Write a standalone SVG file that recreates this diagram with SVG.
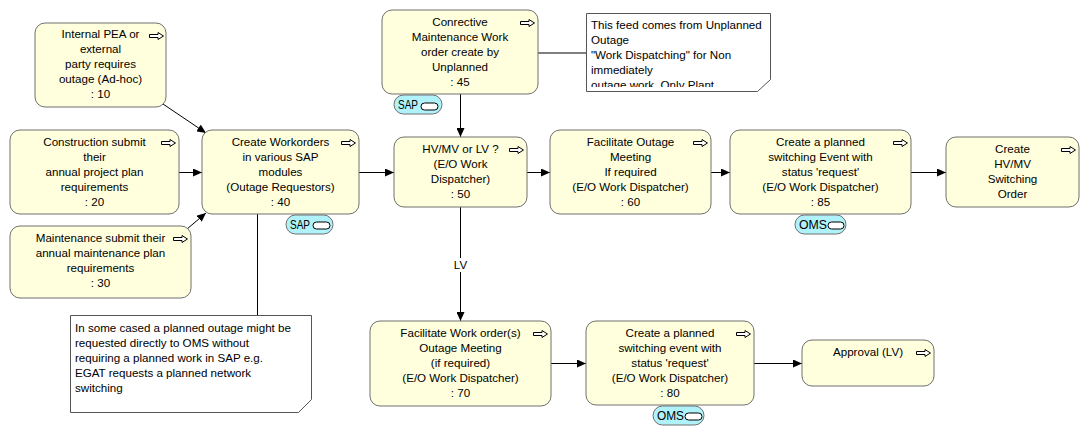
<svg xmlns="http://www.w3.org/2000/svg" xmlns:xlink="http://www.w3.org/1999/xlink" width="1089" height="437" viewBox="0 0 1089 437">
<style>
.node rect.box{fill:#ffffdd;stroke:#707070;stroke-width:1}
text{font-family:"Liberation Sans",Arial,sans-serif;font-size:11.6px;fill:#000}
.c{text-anchor:middle}
.note{fill:#fff;stroke:#555;stroke-width:1}
.badge{fill:#b0f2fa;stroke:#707070;stroke-width:1}
.pill{fill:#fff;stroke:#000;stroke-width:1}
.bt{font-size:12px}
.conn line,.conn path{stroke:#000;stroke-width:1;fill:none}
.icon{fill:#fff;stroke:#000;stroke-width:1}
</style>
<defs>
<marker id="ah" markerWidth="9" markerHeight="8" refX="9" refY="4" orient="auto" markerUnits="userSpaceOnUse">
<path d="M0,0 L9,4 L0,8 Z" fill="#000"/>
</marker>
<polygon id="ic" class="icon" points="0.5,2 9,2 9,0 14.5,3.5 9,7 9,5 0.5,5"/>
<clipPath id="clipN2"><rect x="587" y="14" width="184" height="73"/></clipPath>
</defs>
<rect width="1089" height="437" fill="#fff"/>

<g class="conn">
<line x1="163" y1="104" x2="206" y2="133" marker-end="url(#ah)"/>
<line x1="179" y1="172.5" x2="202" y2="172.5" marker-end="url(#ah)"/>
<line x1="187" y1="229" x2="206" y2="213" marker-end="url(#ah)"/>
<line x1="359" y1="172.5" x2="394" y2="172.5" marker-end="url(#ah)"/>
<line x1="527" y1="172.5" x2="550" y2="172.5" marker-end="url(#ah)"/>
<line x1="711" y1="172.5" x2="730" y2="172.5" marker-end="url(#ah)"/>
<line x1="911" y1="172.5" x2="946" y2="172.5" marker-end="url(#ah)"/>
<line x1="460.5" y1="94" x2="460.5" y2="137" marker-end="url(#ah)"/>
<line x1="460.5" y1="207" x2="460.5" y2="321" marker-end="url(#ah)"/>
<line x1="551" y1="363.5" x2="586" y2="363.5" marker-end="url(#ah)"/>
<line x1="754" y1="363.5" x2="802" y2="363.5" marker-end="url(#ah)"/>
<line x1="538" y1="53" x2="587" y2="53"/>
<line x1="257.5" y1="214" x2="257.5" y2="315"/>
<rect x="450" y="258" width="21" height="14" fill="#fff" stroke="none"/>
<text class="c" x="460.5" y="269">LV</text>
</g>

<g id="node10" class="node">
<rect class="box" x="35" y="23" width="131" height="84" rx="10"/>
<use xlink:href="#ic" x="149" y="32.5"/>
<text class="c" x="100.5" y="38">Internal PEA or</text>
<text class="c" x="100.5" y="53">external</text>
<text class="c" x="100.5" y="68">party requires</text>
<text class="c" x="100.5" y="83">outage (Ad-hoc)</text>
<text class="c" x="100.5" y="98">: 10</text>
</g>

<g id="node20" class="node">
<rect class="box" x="10" y="130" width="169" height="84" rx="10"/>
<use xlink:href="#ic" x="161" y="139.5"/>
<text class="c" x="94.5" y="146">Construction submit</text>
<text class="c" x="94.5" y="161">their</text>
<text class="c" x="94.5" y="176">annual project plan</text>
<text class="c" x="94.5" y="191">requirements</text>
<text class="c" x="94.5" y="206">: 20</text>
</g>

<g id="node30" class="node">
<rect class="box" x="10" y="226" width="181" height="72" rx="10"/>
<use xlink:href="#ic" x="173" y="235.5"/>
<text class="c" x="100.5" y="242">Maintenance submit their</text>
<text class="c" x="100.5" y="257">annual maintenance plan</text>
<text class="c" x="100.5" y="272">requirements</text>
<text class="c" x="100.5" y="287">: 30</text>
</g>

<g id="node40" class="node">
<rect class="box" x="202" y="130" width="157" height="84" rx="10"/>
<use xlink:href="#ic" x="341" y="139.5"/>
<text class="c" x="280.5" y="146">Create Workorders</text>
<text class="c" x="280.5" y="161">in various SAP</text>
<text class="c" x="280.5" y="176">modules</text>
<text class="c" x="280.5" y="191">(Outage Requestors)</text>
<text class="c" x="280.5" y="206">: 40</text>
</g>
<g id="badge40">
<rect class="badge" x="286" y="215" width="47" height="19" rx="9.5"/>
<text class="bt" x="290" y="229" textLength="20" lengthAdjust="spacingAndGlyphs">SAP</text>
<rect class="pill" x="313" y="222" width="17" height="7" rx="3.5"/>
</g>

<g id="note1">
<path class="note" d="M70.5,315.5 H311.5 V399.5 L298.5,412.5 H70.5 Z"/>
<text x="75" y="332">In some cased a planned outage might be</text>
<text x="75" y="347">requested directly to OMS without</text>
<text x="75" y="362">requiring a planned work in SAP e.g.</text>
<text x="75" y="377">EGAT requests a planned network</text>
<text x="75" y="392">switching</text>
</g>

<g id="node45" class="node">
<rect class="box" x="382" y="10" width="156" height="84" rx="10"/>
<use xlink:href="#ic" x="520" y="19.5"/>
<text class="c" x="460" y="26">Conrective</text>
<text class="c" x="460" y="41">Maintenance Work</text>
<text class="c" x="460" y="56">order create by</text>
<text class="c" x="460" y="71">Unplanned</text>
<text class="c" x="460" y="86">: 45</text>
</g>
<g id="badge45">
<rect class="badge" x="394" y="95" width="48" height="19" rx="9.5"/>
<text class="bt" x="398" y="109" textLength="20" lengthAdjust="spacingAndGlyphs">SAP</text>
<rect class="pill" x="421" y="103" width="17" height="7" rx="3.5"/>
</g>

<g id="note2">
<path class="note" d="M586.5,13.5 H770.5 V79.5 L757.5,91.5 H586.5 Z"/>
<g clip-path="url(#clipN2)">
<text x="591" y="29">This feed comes from Unplanned</text>
<text x="591" y="44">Outage</text>
<text x="591" y="59">"Work Dispatching" for Non</text>
<text x="591" y="74">immediately</text>
<text x="591" y="89">outage work. Only Plant</text>
</g>
</g>

<g id="node50" class="node">
<rect class="box" x="394" y="137" width="133" height="70" rx="10"/>
<use xlink:href="#ic" x="509" y="146.5"/>
<text class="c" x="460.5" y="153">HV/MV or LV ?</text>
<text class="c" x="460.5" y="168">(E/O Work</text>
<text class="c" x="460.5" y="183">Dispatcher)</text>
<text class="c" x="460.5" y="198">: 50</text>
</g>

<g id="node60" class="node">
<rect class="box" x="550" y="130" width="161" height="84" rx="10"/>
<use xlink:href="#ic" x="693" y="139.5"/>
<text class="c" x="630.5" y="146">Facilitate Outage</text>
<text class="c" x="630.5" y="161">Meeting</text>
<text class="c" x="630.5" y="176">If required</text>
<text class="c" x="630.5" y="191">(E/O Work Dispatcher)</text>
<text class="c" x="630.5" y="206">: 60</text>
</g>

<g id="node85" class="node">
<rect class="box" x="730" y="130" width="181" height="84" rx="10"/>
<use xlink:href="#ic" x="893" y="139.5"/>
<text class="c" x="820.5" y="146">Create a planned</text>
<text class="c" x="820.5" y="161">switching Event with</text>
<text class="c" x="820.5" y="176">status 'request'</text>
<text class="c" x="820.5" y="191">(E/O Work Dispatcher)</text>
<text class="c" x="820.5" y="206">: 85</text>
</g>
<g id="badge85">
<rect class="badge" x="795" y="215" width="51" height="19" rx="9.5"/>
<text class="bt" x="799" y="229" textLength="28" lengthAdjust="spacingAndGlyphs">OMS</text>
<rect class="pill" x="828" y="222" width="16" height="7" rx="3.5"/>
</g>

<g id="nodeHV" class="node">
<rect class="box" x="946" y="137" width="133" height="70" rx="10"/>
<use xlink:href="#ic" x="1061" y="146.5"/>
<text class="c" x="1012.5" y="153">Create</text>
<text class="c" x="1012.5" y="168">HV/MV</text>
<text class="c" x="1012.5" y="183">Switching</text>
<text class="c" x="1012.5" y="198">Order</text>
</g>

<g id="node70" class="node">
<rect class="box" x="370" y="321" width="181" height="85" rx="10"/>
<use xlink:href="#ic" x="533" y="330.5"/>
<text class="c" x="460.5" y="337">Facilitate Work order(s)</text>
<text class="c" x="460.5" y="352">Outage Meeting</text>
<text class="c" x="460.5" y="367">(if required)</text>
<text class="c" x="460.5" y="382">(E/O Work Dispatcher)</text>
<text class="c" x="460.5" y="397">: 70</text>
</g>

<g id="node80" class="node">
<rect class="box" x="586" y="321" width="168" height="84" rx="10"/>
<use xlink:href="#ic" x="736" y="330.5"/>
<text class="c" x="670" y="337">Create a planned</text>
<text class="c" x="670" y="352">switching event with</text>
<text class="c" x="670" y="367">status 'request'</text>
<text class="c" x="670" y="382">(E/O Work Dispatcher)</text>
<text class="c" x="670" y="397">: 80</text>
</g>
<g id="badge80">
<rect class="badge" x="653" y="406" width="51" height="19" rx="9.5"/>
<text class="bt" x="657" y="420" textLength="27" lengthAdjust="spacingAndGlyphs">OMS</text>
<rect class="pill" x="685" y="413" width="17" height="7" rx="3.5"/>
</g>

<g id="nodeAppr" class="node">
<rect class="box" x="802" y="340" width="132" height="46" rx="10"/>
<use xlink:href="#ic" x="916" y="349.5"/>
<text class="c" x="868" y="356">Approval (LV)</text>
</g>
</svg>
